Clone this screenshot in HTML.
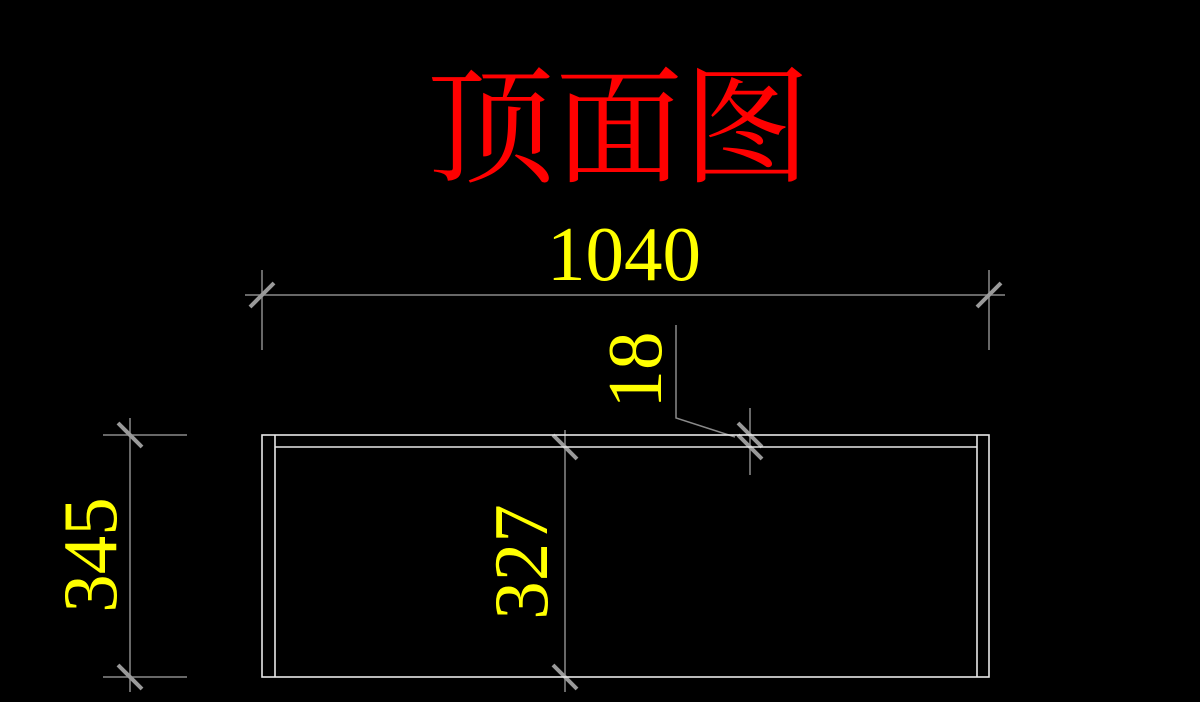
<!DOCTYPE html>
<html><head><meta charset="utf-8"><style>
html,body{margin:0;padding:0;background:#000;width:1200px;height:702px;overflow:hidden}
</style></head><body>
<svg width="1200" height="702" viewBox="0 0 1200 702" xmlns="http://www.w3.org/2000/svg">
<rect width="1200" height="702" fill="#000"/>
<text x="619" y="172" fill="#ff0000" font-family="'Liberation Serif','Noto Serif CJK SC',serif" font-size="128" text-anchor="middle">顶面图</text>
<g stroke="#8a8a8a" stroke-width="1.5" fill="none">
<line x1="245" y1="295" x2="1005" y2="295"/>
<line x1="262" y1="270" x2="262" y2="350"/>
<line x1="989" y1="270" x2="989" y2="350"/>
<line x1="130" y1="418" x2="130" y2="692"/>
<line x1="103" y1="435" x2="187" y2="435"/>
<line x1="103" y1="677" x2="187" y2="677"/>
<line x1="565" y1="430" x2="565" y2="692"/>
<line x1="750" y1="408" x2="750" y2="475"/>
<polyline points="676,325 676,418 735,437"/>
</g>
<g stroke="#9a9a9a" stroke-width="4">
<line x1="250" y1="307" x2="274" y2="283"/>
<line x1="977" y1="307" x2="1001" y2="283"/>
<line x1="118" y1="423" x2="142" y2="447"/>
<line x1="118" y1="665" x2="142" y2="689"/>
<line x1="553" y1="435" x2="577" y2="459"/>
<line x1="553" y1="665" x2="577" y2="689"/>
<line x1="738" y1="423" x2="762" y2="447"/>
<line x1="738" y1="435" x2="762" y2="459"/>
</g>
<g stroke="#e8e8e8" stroke-width="1.6" fill="none">
<rect x="262" y="435" width="727" height="242"/>
<line x1="275" y1="435" x2="275" y2="677"/>
<line x1="977" y1="435" x2="977" y2="677"/>
<line x1="275" y1="447" x2="977" y2="447"/>
</g>
<g fill="#ffff00" font-family="'Liberation Serif',serif" font-size="77" text-anchor="middle">
<text x="624" y="280">1040</text>
<text transform="translate(116,555) rotate(-90)">345</text>
<text transform="translate(547,562) rotate(-90)">327</text>
<text transform="translate(661,370) rotate(-90)">18</text>
</g>
</svg>
</body></html>
